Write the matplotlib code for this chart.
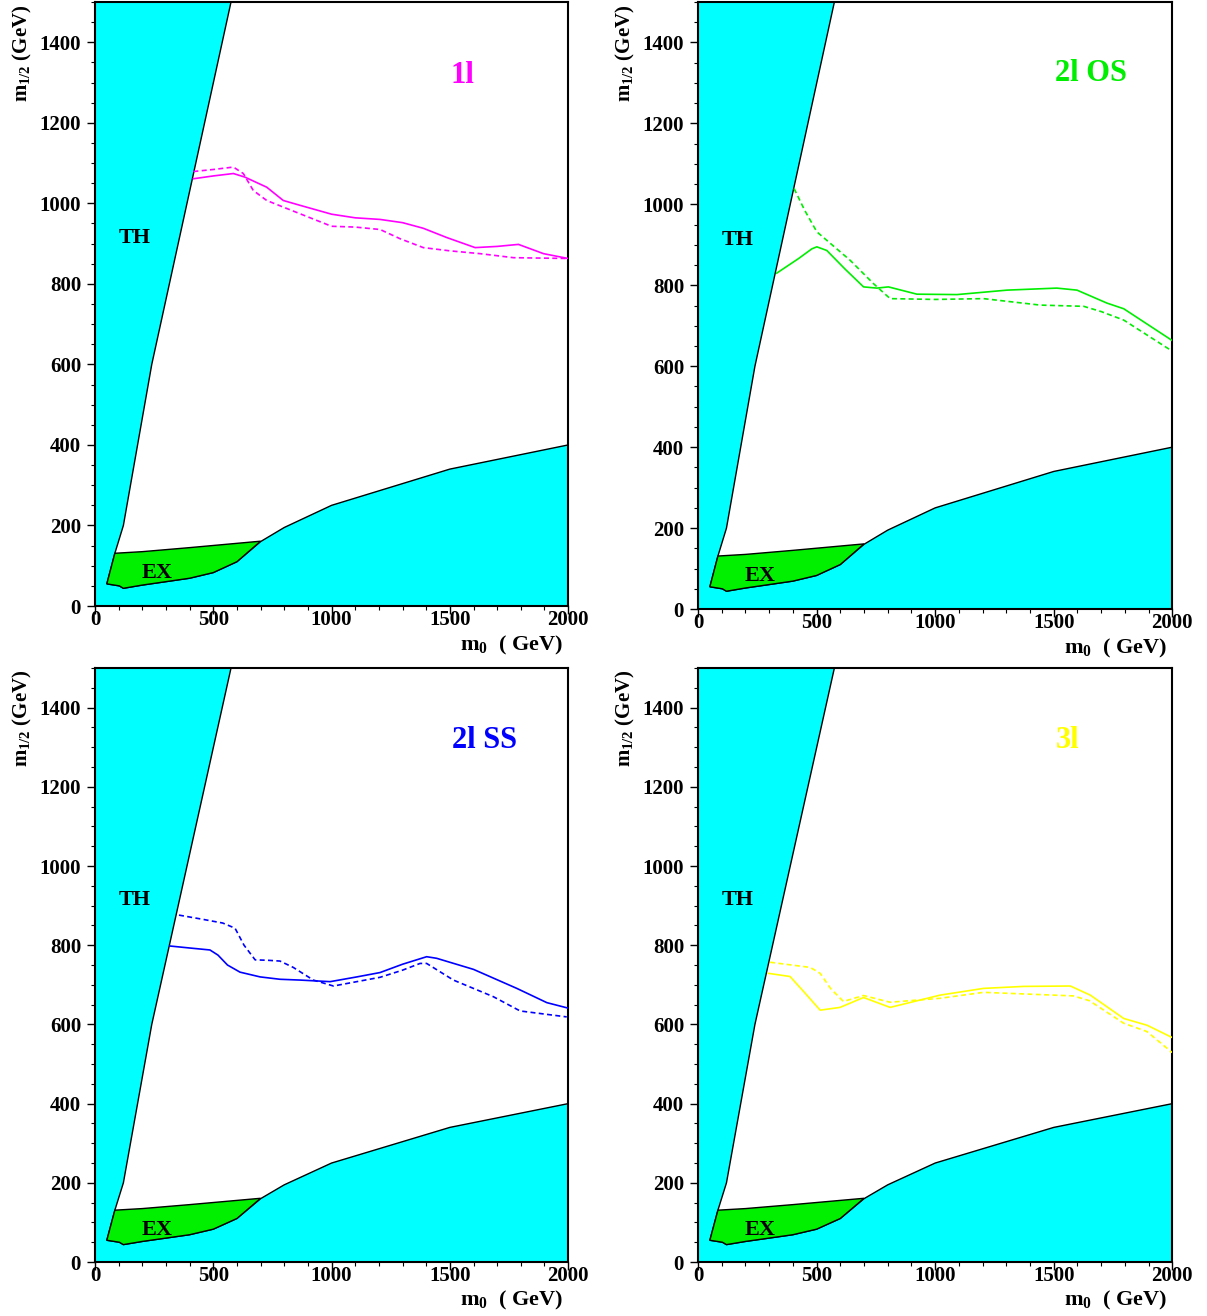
"""
m0 - m1/2 reach plots for 1l, 2l OS, 2l SS and 3l channels.
Output: out.png
"""

import matplotlib
matplotlib.use("Agg")
import matplotlib.pyplot as plt
from matplotlib.ticker import MultipleLocator

# ---------------------------------------------------------------------------
# Data (GeV)
# ---------------------------------------------------------------------------

# theoretically / experimentally excluded region (cyan), shared by all panels
th_m0  = [0, 0, 575, 240, 120, 84, 50, 103, 120, 200, 400, 500, 600, 700, 800, 1000, 1500, 2000, 2000]
th_m12 = [0, 1500, 1500, 600, 200, 131, 55, 50, 44, 52, 69, 83, 110, 160, 195, 250, 340, 400, 0]

# experimental (LEP) excluded region (green)
ex_m0  = [50, 84, 200, 400, 700, 600, 500, 400, 200, 120, 103]
ex_m12 = [55, 131, 135, 145, 161, 110, 83, 69, 52, 44, 50]

# 1l
m0_1l_solid  = [416, 500, 585, 634, 726, 796, 867, 1000, 1100, 1205, 1300, 1388, 1487, 1607, 1700, 1790, 1896, 2000]
m12_1l_solid = [1061, 1068, 1074, 1065, 1040, 1007, 995, 973, 964, 960, 952, 938, 915, 890, 893, 898, 875, 863]
m0_1l_dash   = [416, 500, 585, 627, 669, 726, 867, 1000, 1100, 1205, 1290, 1388, 1500, 1628, 1769, 2000]
m12_1l_dash  = [1079, 1084, 1090, 1074, 1032, 1007, 974, 943, 941, 935, 912, 890, 882, 875, 865, 863]

# 2l OS
m0_os_solid  = [332, 424, 480, 501, 543, 620, 698, 754, 803, 923, 1092, 1303, 1513, 1598, 1724, 1795, 1998]
m12_os_solid = [830, 866, 890, 895, 886, 840, 796, 793, 796, 778, 777, 788, 793, 788, 756, 742, 664]
m0_os_dash   = [405, 450, 501, 641, 740, 810, 1000, 1204, 1443, 1626, 1700, 1795, 1992]
m12_os_dash  = [1039, 985, 932, 862, 804, 767, 765, 767, 751, 748, 735, 714, 640]

# 2l SS
m0_ss_solid  = [317, 400, 486, 520, 560, 613, 698, 782, 867, 994, 1107, 1205, 1300, 1402, 1444, 1600, 1783, 1910, 2001]
m12_ss_solid = [798, 793, 788, 775, 750, 732, 720, 714, 712, 708, 720, 731, 752, 771, 767, 739, 691, 655, 641]
m0_ss_dash   = [355, 450, 540, 592, 630, 677, 730, 782, 838, 923, 1008, 1205, 1300, 1374, 1402, 1515, 1684, 1797, 1994]
m12_ss_dash  = [876, 866, 856, 843, 800, 763, 762, 760, 744, 712, 697, 719, 737, 754, 754, 712, 670, 634, 619]

# 3l
m0_3l_solid  = [297, 388, 450, 515, 599, 698, 810, 1021, 1204, 1373, 1570, 1654, 1795, 1893, 1999]
m12_3l_solid = [729, 721, 680, 636, 643, 668, 643, 674, 691, 696, 697, 674, 615, 598, 567]
m0_3l_dash   = [304, 473, 515, 560, 613, 698, 810, 1021, 1204, 1583, 1650, 1795, 1893, 1999]
m12_3l_dash  = [757, 744, 729, 690, 658, 673, 656, 666, 681, 672, 660, 603, 582, 529]

panels = [
    ("1l",    "#ff00ff", (1552, 1318), m0_1l_solid, m12_1l_solid, m0_1l_dash, m12_1l_dash),
    ("2l OS", "#00ee00", (1658, 1324), m0_os_solid, m12_os_solid, m0_os_dash, m12_os_dash),
    ("2l SS", "#0000ff", (1645, 1316), m0_ss_solid, m12_ss_solid, m0_ss_dash, m12_ss_dash),
    ("3l",    "#ffff00", (1557, 1316), m0_3l_solid, m12_3l_solid, m0_3l_dash, m12_3l_dash),
]

# ---------------------------------------------------------------------------
# Style
# ---------------------------------------------------------------------------

CYAN  = "#00ffff"
GREEN = "#00f000"

plt.rcParams.update({
    "font.family":      "serif",
    "font.serif":       ["Liberation Serif", "DejaVu Serif"],
    "font.weight":      "bold",
    "font.size":        15,
    "mathtext.default": "regular",
    "axes.linewidth":   1.5,
})

fig = plt.figure(figsize=(12.07, 13.16), dpi=100)

# axes rectangles [left, bottom, width, height] in figure fraction
rects = [
    [0.0787, 0.5395, 0.392, 0.459],
    [0.5783, 0.5372, 0.393, 0.4613],
    [0.0787, 0.0410, 0.392, 0.4514],
    [0.5783, 0.0410, 0.393, 0.4514],
]

for rect, (name, col, tpos, xs, ys, xd, yd) in zip(rects, panels):
    ax = fig.add_axes(rect)
    ax.fill(th_m0, th_m12, facecolor=CYAN, edgecolor="black", linewidth=1, zorder=1)
    ax.fill(ex_m0, ex_m12, facecolor=GREEN, edgecolor="black", linewidth=1, zorder=2)

    ax.plot(xs, ys, color=col, linewidth=1.2, zorder=3)
    ax.plot(xd, yd, color=col, linewidth=1.2, linestyle=(0, (3, 2)), zorder=3)

    ax.text(169, 913, "TH", fontsize=16, fontweight="bold", ha="center", va="center")
    ax.text(262, 82, "EX", fontsize=16, fontweight="bold", ha="center", va="center")
    ax.text(tpos[0], tpos[1], name, color=col, fontsize=22, fontweight="bold",
            ha="center", va="center")

    ax.set_xlim(0, 2000)
    ax.set_ylim(0, 1500)
    ax.xaxis.set_major_locator(MultipleLocator(500))
    ax.xaxis.set_minor_locator(MultipleLocator(100))
    ax.yaxis.set_major_locator(MultipleLocator(200))
    ax.yaxis.set_minor_locator(MultipleLocator(50))
    ax.set_yticks(range(0, 1401, 200))
    ax.tick_params(which="major", direction="out", length=6, width=1, labelsize=15)
    ax.tick_params(which="minor", direction="out", length=3, width=0.8)
    ax.tick_params(axis="x", pad=-3)
    ax.tick_params(axis="y", pad=4)
    for lab in ax.get_xticklabels() + ax.get_yticklabels():
        lab.set_fontweight("bold")

    ax.set_ylabel("m$_{1/2}$ (GeV)", fontsize=15, fontweight="bold")
    ax.yaxis.set_label_coords(-0.153, 0.915)
    ax.yaxis.label.set_va("center")
    ax.set_xlabel("m$_0$  ( GeV)", fontsize=16, fontweight="bold")
    ax.xaxis.set_label_coords(0.88, -0.065)
    ax.xaxis.label.set_va("center")

fig.savefig("out.png", dpi=100, facecolor="white")
